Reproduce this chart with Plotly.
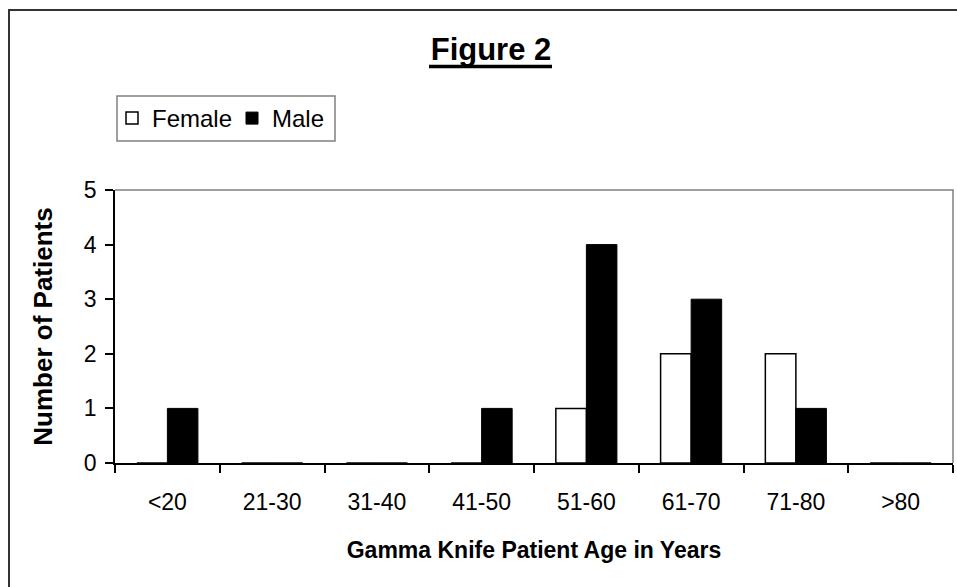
import plotly.graph_objects as go

categories = ["<20", "21-30", "31-40", "41-50", "51-60", "61-70", "71-80", ">80"]
female = [0, 0, 0, 0, 1, 2, 2, 0]
male = [1, 0, 0, 1, 4, 3, 1, 0]
y_ticks = [0, 1, 2, 3, 4, 5]

FONT = "Arial, 'Liberation Sans', sans-serif"

fig = go.Figure()
fig.add_trace(go.Bar(
    x=categories, y=female, name="Female",
    marker=dict(color="white", line=dict(color="black", width=1.5)),
))
fig.add_trace(go.Bar(
    x=categories, y=male, name="Male",
    marker=dict(color="black", line=dict(color="black", width=1)),
))

W, H = 957, 587
L, R, T, B = 115, 4, 190, 124
pw, ph = W - L - R, H - T - B

def px(x):
    return (x - L) / pw

def py(y):
    return (H - B - y) / ph

fig.update_layout(
    width=W, height=H,
    margin=dict(l=L, r=R, t=T, b=B),
    paper_bgcolor="white", plot_bgcolor="white",
    font=dict(family=FONT, color="black", size=23),
    barmode="group", bargap=0.417, bargroupgap=0,
    showlegend=True,
    title=dict(
        text="<b>Figure 2</b>",
        font=dict(size=31, family=FONT, color="black"),
        x=px(491), xref="paper", xanchor="center",
        y=1 - 49.5 / H, yref="container", yanchor="middle",
    ),
    legend=dict(
        orientation="h",
        x=px(112), xanchor="left", xref="paper",
        y=py(118.5), yanchor="middle", yref="paper",
        borderwidth=0, bgcolor="rgba(0,0,0,0)",
        font=dict(size=24, family=FONT, color="black"),
        traceorder="normal",
        entrywidth=75,
    ),
    xaxis=dict(
        type="category",
        showline=True, linecolor="black", linewidth=1.5,
        ticks="outside", ticklen=8, tickcolor="black", tickwidth=1.5,
        tickson="boundaries",
        showgrid=False, zeroline=False,
        tickfont=dict(size=23, family=FONT, color="black"),
        title=dict(text="<b>Gamma Knife Patient Age in Years</b>",
                   font=dict(size=23, family=FONT, color="black"),
                   standoff=28),
        ticklabelstandoff=18,
    ),
    yaxis=dict(
        range=[0, 5], tickvals=y_ticks,
        showline=True, linecolor="black", linewidth=1.5,
        ticks="outside", ticklen=8, tickcolor="black", tickwidth=1.5,
        showgrid=False, zeroline=False,
        tickfont=dict(size=23, family=FONT, color="black"),
        title=dict(text="<b>Number of Patients</b>",
                   font=dict(size=26, family=FONT, color="black"),
                   standoff=24),
        ticklabelstandoff=4,
    ),
    shapes=[
        # plot-area top and right border
        dict(type="path", xref="paper", yref="paper",
             path="M 0,1 L 1,1 L 1,0",
             line=dict(color="#808080", width=1.5)),
        # outer chart frame (right and bottom edges fall outside the view)
        dict(type="rect", xref="paper", yref="paper",
             x0=px(9), x1=px(965), y0=py(10), y1=py(595),
             line=dict(color="#333333", width=2), layer="below"),
        # legend box
        dict(type="rect", xref="paper", yref="paper",
             x0=px(117), x1=px(335), y0=py(96), y1=py(141),
             line=dict(color="#808080", width=1.5), layer="below"),
        # title underline
        dict(type="line", xref="paper", yref="paper",
             x0=px(429), x1=px(552), y0=py(66.5), y1=py(66.5),
             line=dict(color="black", width=3.5)),
    ],
)

fig.write_html(
    "out.html",
    config={"displayModeBar": False},
    post_script="document.body.style.margin='0';document.body.style.overflow='hidden';",
)
